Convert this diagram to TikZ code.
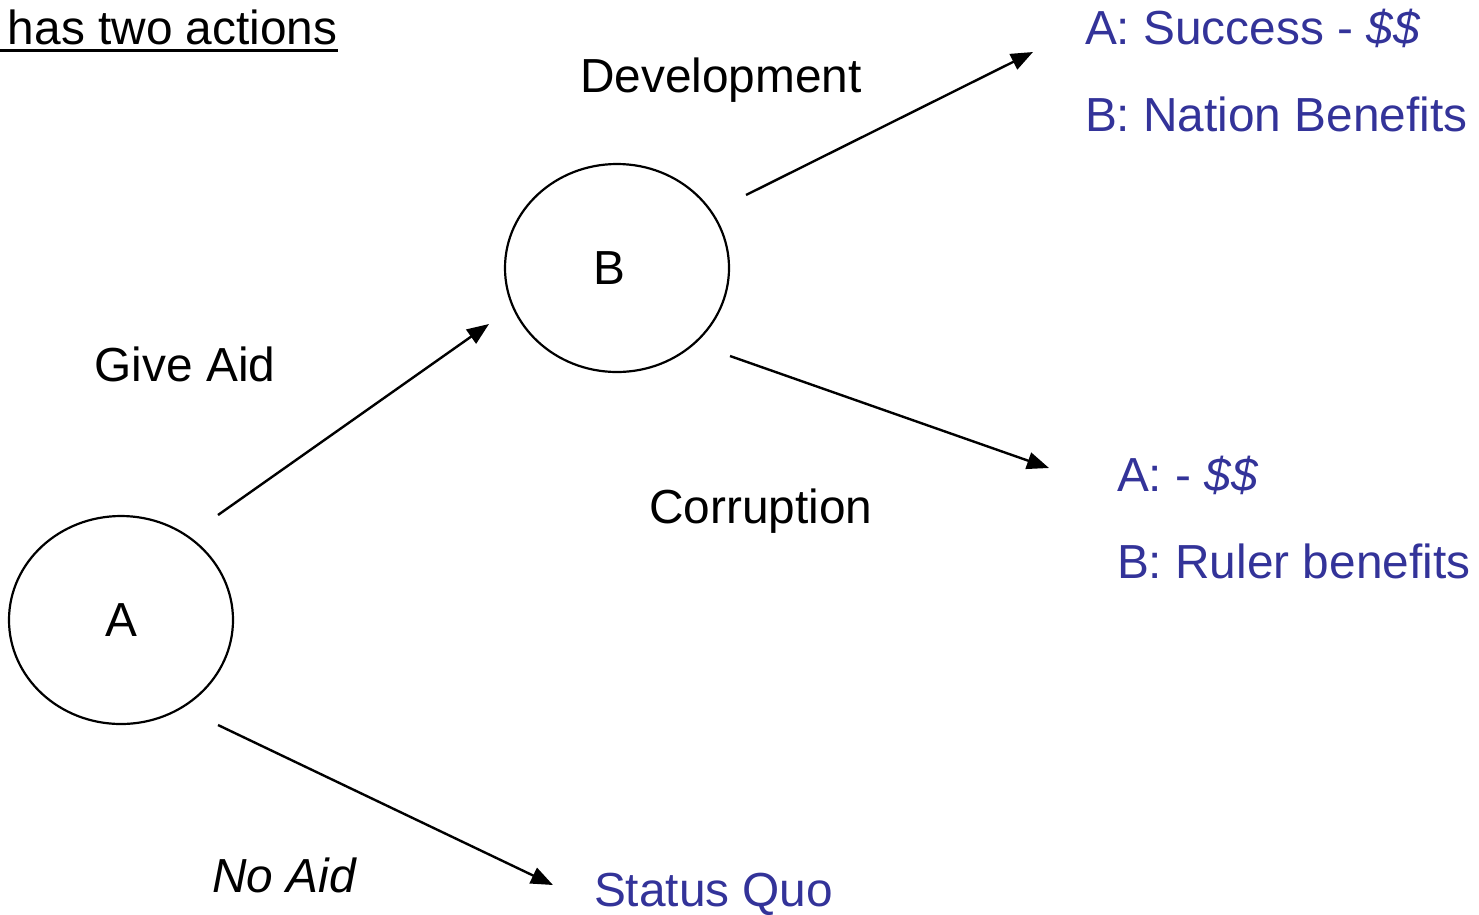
\documentclass[tikz,border=0pt]{standalone}
\usepackage{fontspec}
\setmainfont{Liberation Sans}
\usetikzlibrary{arrows.meta,shapes.geometric}
\definecolor{payoff}{RGB}{51,51,153}
\begin{document}
\begin{tikzpicture}[x=1pt,y=-1pt,
  every node/.style={inner sep=0pt,outer sep=0pt,font=\fontsize{47.8}{57}\selectfont},
  player/.style={draw,line width=2.2pt,ellipse,minimum width=224pt,minimum height=208pt},
  move/.style={line width=2.4pt,-{Triangle[length=22pt,width=17pt]}},
  payofftext/.style={text=payoff,anchor=base west},
  choicetext/.style={anchor=base}]
\useasboundingbox (0,0) rectangle (1479,914);

% heading
\node[anchor=base west] (head) at (8,44) {has two actions};
\draw[line width=3pt] (0,50.5) -- (338,50.5);

% players
\node[player] (A) at (121,620) {};
\node (Alab) at (121,620) {A};
\node[player] (B) at (617,268) {};
\node (Blab) at (609,268) {B};

% arrow end points
\coordinate (a1) at (218,515);
\coordinate (a2) at (489,324);
\coordinate (a3) at (218,725);
\coordinate (a4) at (553,885);
\coordinate (b1) at (746,195);
\coordinate (b2) at (1033,52);
\coordinate (b3) at (730,356);
\coordinate (b4) at (1049,468);

\draw[move] (a1) -- (a2);
\draw[move] (a3) -- (a4);
\draw[move] (b1) -- (b2);
\draw[move] (b3) -- (b4);

% choice labels
\node[choicetext] (give) at (185,381) {Give Aid};
\node[choicetext] (noaid) at (284,892) {\itshape No Aid};
\node[choicetext] (dev) at (721,92) {Development};
\node[choicetext] (corr) at (761,523) {Corruption};

% outcomes
\node[payofftext] (sq) at (594,906) {Status Quo};
\node[payofftext] (s1) at (1085,44) {A: Success - \textit{\$\$}};
\node[payofftext] (s2) at (1085,131) {B: Nation Benefits};
\node[payofftext] (c1) at (1117,491) {A: - \textit{\$\$}};
\node[payofftext] (c2) at (1117,578) {B: Ruler benefits};
\end{tikzpicture}
\end{document}
